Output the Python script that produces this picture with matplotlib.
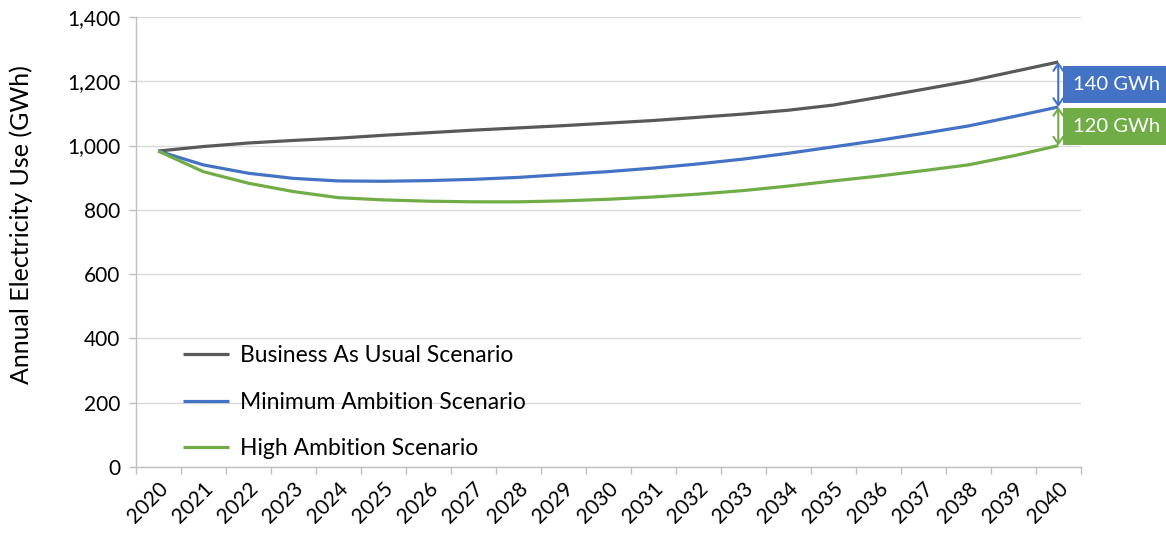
import matplotlib
matplotlib.use("Agg")
import matplotlib.pyplot as plt
import matplotlib.transforms as mtransforms
import numpy as np

plt.rcParams["font.family"] = ["Lato", "DejaVu Sans"]

YEARS = [str(y) for y in range(2020, 2041)]
BAU = [983, 997, 1008, 1016, 1023, 1032, 1040, 1048, 1055, 1062, 1070,
       1078, 1088, 1098, 1110, 1126, 1150, 1175, 1200, 1230, 1260]
MIN_AMB = [983, 940, 914, 898, 890, 889, 891, 895, 901, 910, 919,
           930, 943, 958, 976, 996, 1016, 1038, 1061, 1090, 1120]
HIGH_AMB = [983, 919, 883, 857, 838, 831, 827, 825, 825, 828, 833,
            840, 849, 860, 874, 890, 905, 922, 940, 968, 1000]
SERIES = ["Business As Usual Scenario", "Minimum Ambition Scenario", "High Ambition Scenario"]
COLORS = ["#595959", "#4472C4", "#70AD47"]

fig = plt.figure(figsize=(11.66, 5.35), dpi=100)
ax = fig.add_axes([0.1164, 0.1271, 0.8105, 0.8411])

x = np.arange(len(YEARS))
for vals, name, c in zip([BAU, MIN_AMB, HIGH_AMB], SERIES, COLORS):
    ax.plot(x, vals, color=c, lw=2.3, label=name, solid_capstyle="butt")

ax.set_xlim(-0.5, len(YEARS) - 0.5)
ax.set_ylim(0, 1400)
ax.set_yticks(range(0, 1401, 200))
ax.set_yticklabels([f"{v:,}" for v in range(0, 1401, 200)], fontsize=15)
ax.set_xticks(x)
ax.set_xticklabels(YEARS, rotation=45, ha="right", rotation_mode="anchor", fontsize=15)
ax.set_xticks(np.arange(-0.5, len(YEARS)), minor=True)
ax.tick_params(axis="x", which="major", length=0, pad=8)
ax.tick_params(axis="x", which="minor", length=5, color="#bfbfbf", width=1)
ax.tick_params(axis="y", length=5, color="#bfbfbf", width=1, pad=6)
ax.grid(axis="y", color="#d9d9d9", lw=1)
ax.set_axisbelow(True)
for s in ("top", "right"):
    ax.spines[s].set_visible(False)
for s in ("left", "bottom"):
    ax.spines[s].set_color("#bfbfbf")
    ax.spines[s].set_linewidth(1)
ax.set_ylabel("Annual Electricity Use (GWh)", fontsize=18)
ax.yaxis.set_label_coords(-0.109, 0.538)

ax.legend(loc="lower left", bbox_to_anchor=(0.05, 0.018), frameon=False, fontsize=16.5,
          handlelength=2.0, labelspacing=1.1, handletextpad=0.5, borderpad=0, borderaxespad=0)

# gap arrows + labels at the final year
last = len(YEARS) - 1
trans = mtransforms.blended_transform_factory(fig.transFigure, ax.transData)
for top, bot, c in [(BAU[-1], MIN_AMB[-1], COLORS[1]), (MIN_AMB[-1], HIGH_AMB[-1], COLORS[2])]:
    ax.annotate("", xy=(last, top), xytext=(last, bot),
                arrowprops=dict(arrowstyle="<->,head_length=0.5,head_width=0.35", color=c, lw=1.5,
                                shrinkA=0, shrinkB=0), annotation_clip=False)
    ax.text(0.9575, (top + bot) / 2, f"{top - bot:.0f} GWh", transform=trans, color="white",
            fontsize=14.5, ha="center", va="center", clip_on=False,
            bbox=dict(boxstyle="square,pad=0.5", fc=c, ec="none"))

fig.savefig("out.png", dpi=100)
